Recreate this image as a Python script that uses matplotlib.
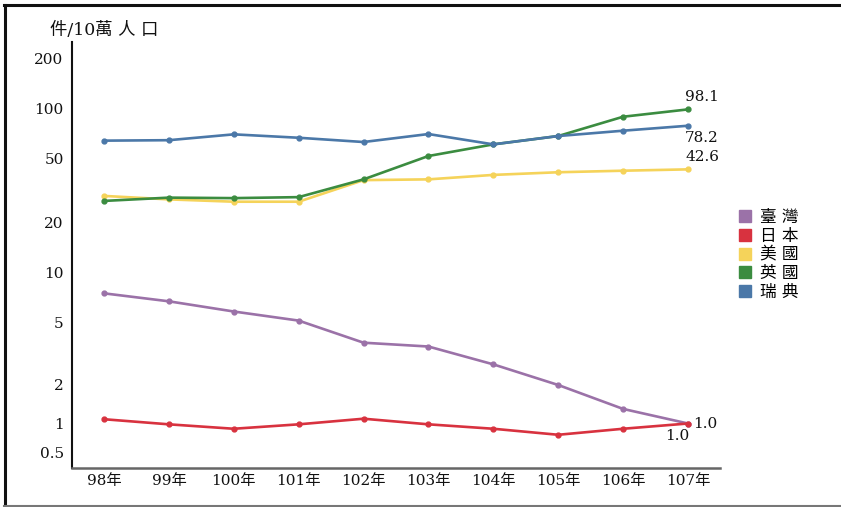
import numpy as np
import matplotlib
matplotlib.use('Agg')
import matplotlib.pyplot as plt
from matplotlib.lines import Line2D

# ---------------- data ----------------
years = ['98年', '99年', '100年', '101年', '102年', '103年', '104年', '105年', '106年', '107年']
taiwan = [7.5, 6.7, 5.8, 5.1, 3.7, 3.5, 2.7, 2.0, 1.3, 1.0]
japan = [1.08, 0.98, 0.88, 0.98, 1.09, 0.98, 0.88, 0.76, 0.88, 1.0]
usa = [29.3, 27.9, 27.0, 27.0, 36.6, 37.0, 39.4, 40.9, 41.8, 42.6]
uk = [27.3, 28.6, 28.4, 28.8, 37.0, 51.4, 60.4, 67.8, 88.6, 98.1]
sweden = [63.6, 64.0, 69.4, 66.2, 62.4, 69.7, 60.4, 67.8, 73.0, 78.2]
series_names = ['臺 灣', '日 本', '美 國', '英 國', '瑞 典']
ytick_values = [0.5, 1, 2, 5, 10, 20, 50, 100, 200]
ytick_labels = ['0.5', '1', '2', '5', '10', '20', '50', '100', '200']
y_unit = '件/10萬 人 口'

# ---------------- style ----------------
colors = ['#9b72a8', '#d8323f', '#f5d35a', '#3b8c40', '#4b78a8']
FONT = ['DejaVu Serif', 'Noto Sans CJK TC']
plt.rcParams['font.family'] = FONT

# non-uniform (hand-spaced) log axis of the original: tick spacing in axis units
scale_breaks = [16, 44.5, 83, 146, 195, 245, 310, 360, 410]
axis_height = 426
lx = np.log10(np.array(ytick_values, float))
gy = np.array(scale_breaks, float)
s0 = (gy[1] - gy[0]) / (lx[1] - lx[0])
s1 = (gy[-1] - gy[-2]) / (lx[-1] - lx[-2])


def fwd(v):
    x = np.log10(np.maximum(np.asarray(v, float), 1e-9))
    y = np.interp(x, lx, gy)
    y = np.where(x < lx[0], gy[0] + (x - lx[0]) * s0, y)
    y = np.where(x > lx[-1], gy[-1] + (x - lx[-1]) * s1, y)
    return y


def inv(y):
    y = np.asarray(y, float)
    x = np.interp(y, gy, lx)
    x = np.where(y < gy[0], lx[0] + (y - gy[0]) / s0, x)
    x = np.where(y > gy[-1], lx[-1] + (y - gy[-1]) / s1, x)
    return 10 ** x


W, H = 841, 507
fig = plt.figure(figsize=(W / 100, H / 100), dpi=100)
ax = fig.add_axes([72 / W, (H - 468) / H, (720 - 72) / W, (468 - 42) / H])
ax.set_yscale('function', functions=(fwd, inv))

xs = np.arange(len(years))
for vals, c in zip([taiwan, japan, usa, uk, sweden], colors):
    ax.plot(xs, vals, color=c, lw=1.9, marker='o', markersize=3.5, solid_capstyle='round')

ax.set_xlim(-32 / 64.9, len(years) - 1 + 32 / 64.9)
ax.set_ylim(float(inv(0)), float(inv(axis_height)))
ax.set_yticks(ytick_values)
ax.set_yticklabels(ytick_labels)
ax.yaxis.set_minor_locator(matplotlib.ticker.NullLocator())
ax.set_xticks(xs)
ax.set_xticklabels(years)
ax.tick_params(axis='both', length=0, labelsize=11, colors='#111111')
ax.tick_params(axis='y', pad=6)
ax.tick_params(axis='x', pad=4)
for s in ['top', 'right']:
    ax.spines[s].set_visible(False)
ax.spines['left'].set_color('#111111')
ax.spines['left'].set_linewidth(1.5)
ax.spines['bottom'].set_color('#666666')
ax.spines['bottom'].set_linewidth(1.8)

# end labels
last = len(years) - 1
ann = dict(textcoords='offset pixels', fontsize=11, color='#111111')
ax.annotate(f'{uk[-1]:.1f}', (last, uk[-1]), xytext=(14, 12), ha='center', va='center', **ann)
ax.annotate(f'{sweden[-1]:.1f}', (last, sweden[-1]), xytext=(14, -12), ha='center', va='center', **ann)
ax.annotate(f'{usa[-1]:.1f}', (last, usa[-1]), xytext=(14, 12), ha='center', va='center', **ann)
ax.annotate(f'{taiwan[-1]:.1f}', (last, taiwan[-1]), xytext=(5, 0), ha='left', va='center', **ann)
ax.annotate(f'{japan[-1]:.1f}', (last, japan[-1]), xytext=(-11, -13), ha='center', va='center', **ann)

# unit label
fig.text(50 / W, 1 - 30 / H, y_unit, fontsize=12.5, ha='left', va='center', color='#111111')

# legend
handles = [Line2D([], [], marker='s', linestyle='none', markersize=8, color=c) for c in colors]
fig.legend(handles, series_names, loc='upper left', bbox_to_anchor=(738 / W, 1 - 209 / H),
           frameon=False, fontsize=12, handlelength=0.8, handletextpad=0.55,
           labelspacing=0.1, borderpad=0, borderaxespad=0)

# outer frame
fig.add_artist(Line2D([4 / W, 1], [1 - 4.5 / H, 1 - 4.5 / H], color='#111111', lw=2.2, transform=fig.transFigure))
fig.add_artist(Line2D([4.5 / W, 4.5 / W], [1 - 4.5 / H, 1 / H], color='#111111', lw=2.2, transform=fig.transFigure))
fig.add_artist(Line2D([4 / W, 1], [1 / H, 1 / H], color='#777777', lw=1.5, transform=fig.transFigure))

fig.savefig('out.png', dpi=100)
